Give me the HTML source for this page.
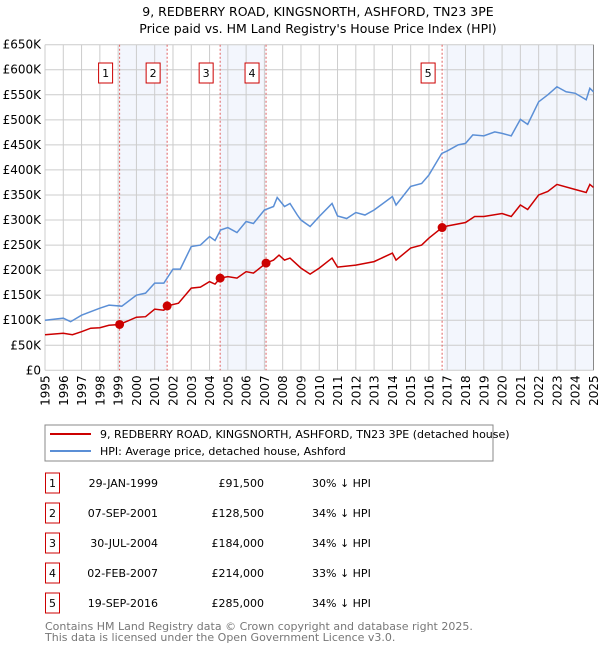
<!DOCTYPE html>
<html><head><meta charset="utf-8"><style>
body{margin:0;background:#fff;font-family:"DejaVu Sans","Liberation Sans",sans-serif;}
svg text{font-family:"DejaVu Sans","Liberation Sans",sans-serif;}
</style></head><body>
<svg id="c" width="600" height="650" xmlns="http://www.w3.org/2000/svg">
<text x="318" y="16" text-anchor="middle" font-size="12.5">9, REDBERRY ROAD, KINGSNORTH, ASHFORD, TN23 3PE</text>
<text x="318" y="33" text-anchor="middle" font-size="12.5">Price paid vs. HM Land Registry's House Price Index (HPI)</text>
<g id="plot"></g>
<g>
<rect x="45" y="425" width="448" height="36" fill="#fff" stroke="#888"/>
<line x1="50" y1="434" x2="91" y2="434" stroke="#cc0000" stroke-width="2"/>
<text x="100" y="438" font-size="11">9, REDBERRY ROAD, KINGSNORTH, ASHFORD, TN23 3PE (detached house)</text>
<line x1="50" y1="451" x2="91" y2="451" stroke="#5b8fd6" stroke-width="2"/>
<text x="100" y="455" font-size="11">HPI: Average price, detached house, Ashford</text>
</g>
<g id="table"></g>
<text x="45" y="630" font-size="11" fill="#777">Contains HM Land Registry data © Crown copyright and database right 2025.</text>
<text x="45" y="641" font-size="11" fill="#777">This data is licensed under the Open Government Licence v3.0.</text>
</svg>
<script>
const hpiYears=[1995,1996,1996.4,1997,1997.5,1998,1998.5,1999.2,2000,2000.5,2001,2001.5,2002,2002.4,2003,2003.5,2004,2004.3,2004.6,2005,2005.5,2006,2006.4,2007,2007.5,2007.7,2008.1,2008.4,2008.8,2009,2009.5,2010,2010.7,2011,2011.5,2012,2012.5,2013,2014,2014.2,2015,2015.6,2016,2016.7,2017,2017.6,2018,2018.4,2019,2019.6,2020,2020.5,2021,2021.4,2022,2022.5,2023,2023.5,2024,2024.6,2024.8,2025];
const hpiValues=[100,104,97,110,117,124,130,128,150,154,174,174,202,202,247,250,267,259,280,285,275,297,293,320,327,345,327,333,310,300,287,307,333,308,303,315,310,320,347,330,367,373,390,433,438,450,453,470,468,476,473,468,501,491,536,550,566,556,553,540,563,556];
const propYears=[1995,1996,1996.5,1997,1997.5,1998,1998.5,1999.08,2000,2000.5,2001,2001.5,2001.68,2002.3,2003,2003.5,2004,2004.3,2004.58,2005,2005.5,2006,2006.4,2007.09,2007.5,2007.8,2008.1,2008.4,2009,2009.5,2010,2010.7,2011,2012,2013,2014,2014.2,2015,2015.6,2016,2016.72,2017,2018,2018.5,2019,2020,2020.5,2021,2021.4,2022,2022.5,2023,2024,2024.6,2024.8,2025];
const propValues=[71,74,71,77,84,85,90,91.5,106,107,122,120,128.5,134,164,166,177,172,184,187,184,197,194,214,220,230,220,224,204,192,204,224,206,210,217,234,220,244,250,264,285,288,295,307,307,313,307,330,321,350,357,371,361,355,371,365];
const saleLabels=["1","2","3","4","5"];
const saleYears=[1999.08,2001.68,2004.58,2007.09,2016.72];
const salePrices=[91.5,128.5,184,214,285];
const saleDates=["29-JAN-1999","07-SEP-2001","30-JUL-2004","02-FEB-2007","19-SEP-2016"];
const salePriceText=["£91,500","£128,500","£184,000","£214,000","£285,000"];
const salePct=["30% ↓ HPI","34% ↓ HPI","34% ↓ HPI","33% ↓ HPI","34% ↓ HPI"];
const yTicks=[0,50,100,150,200,250,300,350,400,450,500,550,600,650];
const yTickLabels=["£0","£50K","£100K","£150K","£200K","£250K","£300K","£350K","£400K","£450K","£500K","£550K","£600K","£650K"];
const xTicks=[1995,1996,1997,1998,1999,2000,2001,2002,2003,2004,2005,2006,2007,2008,2009,2010,2011,2012,2013,2014,2015,2016,2017,2018,2019,2020,2021,2022,2023,2024,2025];

const NS="http://www.w3.org/2000/svg";
const X0=45,X1=593.5,Y0=370.3,Y1=44.7;
const xs=y=>X0+(y-1995)/30*(X1-X0);
const ys=v=>Y0-v/650*(Y0-Y1);
const plot=document.getElementById('plot');
function mk(tag,attrs,parent){const e=document.createElementNS(NS,tag);for(const k in attrs)e.setAttribute(k,attrs[k]);(parent||plot).appendChild(e);return e;}

mk('rect',{x:X0,y:Y1,width:X1-X0,height:Y0-Y1,fill:'#fff'});
const shadeRanges=[[0,1],[2,3]];
shadeRanges.forEach(r=>{const e=mk('rect',{x:xs(saleYears[r[0]]),y:Y1,width:xs(saleYears[r[1]])-xs(saleYears[r[0]]),height:Y0-Y1,fill:'#f3f6fd'});

});
{const e=mk('rect',{x:xs(saleYears[4])+2,y:Y1,width:X1-xs(saleYears[4])-2,height:Y0-Y1,fill:'#f3f6fd'});

}
yTicks.forEach((t,i)=>{const l=mk('line',{x1:X0,x2:X1,y1:ys(t),y2:ys(t),stroke:'#ccc','stroke-width':1});


const tx=mk('text',{x:X0-4,y:ys(t)+4,'text-anchor':'end','font-size':12});
tx.textContent=yTickLabels[i];

});
xTicks.forEach(t=>{const l=mk('line',{x1:xs(t),x2:xs(t),y1:Y1,y2:Y0,stroke:'#ccc','stroke-width':1});


const tx=mk('text',{x:0,y:0,'text-anchor':'end','font-size':12,transform:`translate(${xs(t)+4.5},${Y0+5}) rotate(-90)`});
tx.textContent=String(t);

});
mk('line',{x1:X1,x2:X1,y1:Y1,y2:Y0,stroke:'#888','stroke-width':1});
saleYears.forEach((y,i)=>{const l=mk('line',{x1:xs(y),x2:xs(y),y1:Y1,y2:Y0,stroke:'#e06060','stroke-width':1,'stroke-dasharray':'2,2'});


const r=mk('rect',{x:xs(y)-21,y:63,width:14,height:20,fill:'#fff',stroke:'#cc0000','stroke-width':1});


const t=mk('text',{x:xs(y)-14,y:77,'text-anchor':'middle','font-size':11});
t.textContent=saleLabels[i];

});
const hp=mk('polyline',{points:hpiYears.map((y,i)=>xs(y)+','+ys(hpiValues[i])).join(' '),fill:'none',stroke:'#5b8fd6','stroke-width':1.5});


const pp=mk('polyline',{points:propYears.map((y,i)=>xs(y)+','+ys(propValues[i])).join(' '),fill:'none',stroke:'#cc0000','stroke-width':1.5});


saleYears.forEach((y,i)=>{const c=mk('circle',{cx:xs(y),cy:ys(salePrices[i]),r:4.5,fill:'#cc0000'});

});
const tb=document.getElementById('table');
saleLabels.forEach((s,i)=>{const cy=483+i*30;
const r=mk('rect',{x:45.5,y:cy-10,width:14,height:20,fill:'#fff',stroke:'#cc0000','stroke-width':1},tb);


const n=mk('text',{x:52.5,y:cy+4,'text-anchor':'middle','font-size':11},tb);n.textContent=s;


const d=mk('text',{x:158,y:cy+4,'text-anchor':'end','font-size':11},tb);d.textContent=saleDates[i];


const p=mk('text',{x:264,y:cy+4,'text-anchor':'end','font-size':11},tb);p.textContent=salePriceText[i];


const q=mk('text',{x:312,y:cy+4,'font-size':11},tb);q.textContent=salePct[i];

});
</script>
</body></html>
